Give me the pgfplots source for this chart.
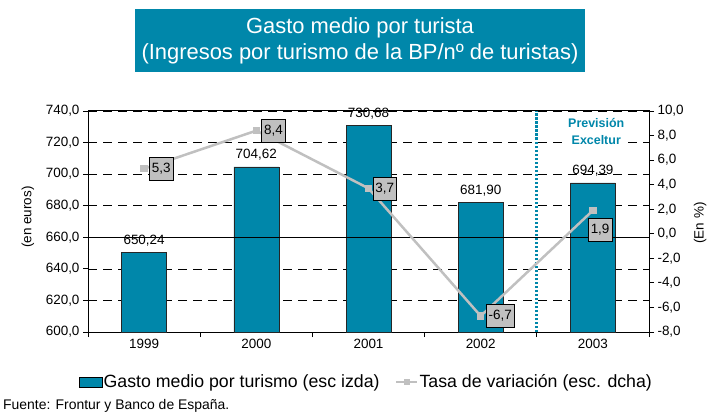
\documentclass[border=0pt]{standalone}
\usepackage{fontspec}
\setmainfont{Liberation Sans}
\usepackage{pgfplots}
\pgfplotsset{compat=1.18}
\definecolor{teal1}{RGB}{0,135,170}
\definecolor{lgray}{RGB}{192,192,192}
\pgfplotsset{linelegend/.style={legend image code/.code={\draw[##1, mark repeat=2, mark phase=2] plot coordinates {(0bp,0bp) (10.5bp,0bp) (21bp,0bp)};}}}
\begin{document}
\begin{tikzpicture}[x=1bp,y=1bp]
\path[use as bounding box] (0,0) rectangle (708,413);
% title box
\node[fill=teal1, text=white, minimum width=450bp, minimum height=63bp, inner sep=0pt, align=center,
      font=\fontsize{22}{26}\selectfont] at (360,372.5)
      {Gasto medio por turista\\(Ingresos por turismo de la BP/nº de turistas)};
% footnote
\node[anchor=base west, inner sep=0pt, font=\fontsize{14}{16}\selectfont] at (3,4)
      {Fuente: Frontur y Banco de España.};

\begin{axis}[
  scale only axis, width=561bp, height=221bp, at={(88bp,81bp)}, anchor=south west,
  xmin=-0.5, xmax=4.5, ymin=600, ymax=740,
  xtick={-0.5,0.5,...,4.5}, xticklabels={},
  extra x ticks={0,1,2,3,4}, extra x tick labels={1999,2000,2001,2002,2003},
  extra x tick style={major tick length=0pt, grid=none},
  xtick pos=bottom, ytick pos=left,
  ytick={600,620,...,740},
  tick align=outside, major tick length=5bp,
  tick style={black, line width=0.8bp},
  axis line style={black, line width=1bp},
  ymajorgrids, major grid style={black, dash pattern=on 9bp off 6bp, line width=0.7bp},
  tick label style={font=\fontsize{13.5}{16}\selectfont},
  x tick label style={yshift=-4bp},
  yticklabel style={/pgf/number format/.cd, fixed, fixed zerofill, precision=1, use comma, assume math mode=true},
  ylabel={(en euros)}, ylabel style={font=\fontsize{13.5}{16}\selectfont, at={(axis description cs:-0.107,0.52)}, anchor=center},
  legend columns=2,
  legend style={draw=none, fill=none, at={(0.4955,-0.226)}, anchor=center,
    font=\fontsize{17.8}{20}\selectfont, inner sep=0pt,
    nodes={inner sep=1.5bp},
    /tikz/every even column/.append style={column sep=14bp}},
]
\addplot[ybar, bar width=45bp, fill=teal1, draw=black!85, line width=0.6bp,
  nodes near coords={\pgfmathprintnumber[fixed, fixed zerofill, precision=2, use comma, assume math mode=true]{\pgfplotspointmeta}},
  every node near coord/.append style={font=\fontsize{13.5}{16}\selectfont, text=black, yshift=3bp},
  legend image code/.code={\draw[fill=teal1, draw=black, line width=0.6bp] (0bp,-5bp) rectangle (23bp,5bp);}]
  coordinates {(0,650.24) (1,704.62) (2,730.68) (3,681.90) (4,694.39)};
\addlegendentry{Gasto medio por turismo (esc izda)}
\addlegendimage{lgray, line width=2bp, mark=square*, mark size=2bp, mark options={fill=lgray, draw=lgray}, linelegend}
\addlegendentry{Tasa de variación (esc. dcha)}
\end{axis}

\begin{axis}[
  scale only axis, width=561bp, height=221bp, at={(88bp,81bp)}, anchor=south west,
  xmin=-0.5, xmax=4.5, ymin=-8, ymax=10,
  axis x line=none, axis y line*=right,
  ytick={-8,-6,...,10},
  tick align=outside, major tick length=5bp,
  tick style={black, line width=0.8bp},
  axis line style={black, line width=1bp},
  tick label style={font=\fontsize{13.5}{16}\selectfont},
  yticklabel style={/pgf/number format/.cd, fixed, fixed zerofill, precision=1, use comma, assume math mode=true},
  ylabel={(En \%)}, ylabel style={font=\fontsize{13.5}{16}\selectfont, at={(axis description cs:1.091,0.493)}, anchor=center, rotate=0},
]
\draw[black, line width=1.3bp] (rel axis cs:0,0.42857) -- (rel axis cs:1,0.42857);
\draw[teal1, line width=2.8bp, dash pattern=on 2.5bp off 1.5bp] (axis cs:3.5,-8) -- (axis cs:3.5,10);
\node[fill=white, inner sep=2bp, align=center, text=teal1, font=\fontsize{12.5}{17}\selectfont\bfseries]
  at (axis cs:4.03,8.33) {Previsión\\Exceltur};
\addplot[lgray, line width=2.5bp, mark=square*, mark size=2.5bp, mark options={fill=lgray, draw=lgray},
  visualization depends on={value \thisrow{dx} \as \dx},
  visualization depends on={value \thisrow{dy} \as \dy},
  nodes near coords={\pgfmathprintnumber[fixed, fixed zerofill, precision=1, use comma, assume math mode=true]{\pgfplotspointmeta}},
  every node near coord/.append style={anchor=west, xshift=\dx bp, yshift=\dy bp, fill=lgray, draw=black,
     line width=0.7bp, text=black, inner xsep=2.5bp, minimum height=23bp, font=\fontsize{13.5}{16}\selectfont}]
  table {
x y dx dy
0 5.3 5 0
1 8.4 5 0
2 3.7 4 0
3 -6.7 5 0
4 1.9 -5 -19.5
};
\end{axis}
\end{tikzpicture}
\end{document}
